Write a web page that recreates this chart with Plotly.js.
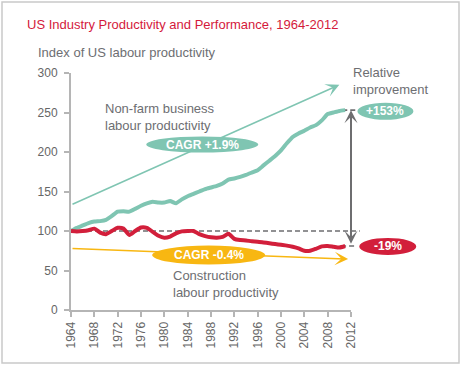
<!DOCTYPE html>
<html>
<head>
<meta charset="utf-8">
<script src="https://cdn.plot.ly/plotly-3.0.1.min.js"></script>
<style>
  html, body { margin: 0; padding: 0; background: #fff; }
  #chart { width: 463px; height: 367px; }
</style>
</head>
<body>
<div id="chart"></div>
<script>
// ---------- DATA ----------
const years = [1964,1965,1966,1967,1968,1969,1970,1971,1972,1973,1974,1975,1976,1977,1978,1979,
               1980,1981,1982,1983,1984,1985,1986,1987,1988,1989,1990,1991,1992,1993,1994,1995,
               1996,1997,1998,1999,2000,2001,2002,2003,2004,2005,2006,2007,2008,2009,2010,2011];
const nonFarm = [100,104,107,110,112,112.5,114,119,124.5,125,124.5,128,132,135,137,136,
                 136,138,135,140,144,147,150,153,155,157,160,165,166.5,168.5,171,174,
                 177,183,189,195,202,211,219,223.5,227,231,234,240,248,250,252,253];
const construction = [100,99.5,100,101,103,98,96,100,104,103,95,100,104.5,104,99,94,
                      91.5,93,97,99.5,100,100,96,93.5,92,91.5,92.5,96.5,90,88.5,88,87,
                      86.5,85.5,84.5,83.5,82.5,81.5,80,78,75,75,77.5,80.5,81,80,79,81];
// trend arrows: [start year, end year], [start value, end value]
const nonFarmTrendX = [1964, 2010];
const nonFarmTrendY = [133, 285];
const constrTrendX = [1964, 2011.5];
const constrTrendY = [78, 64.5];
const nonFarmFinal = 253;
const constrFinal = 81;
const baseIndex = 100;
const labelNonFarmCagr = 'CAGR +1.9%';
const labelConstrCagr = 'CAGR -0.4%';
const labelRelUp = '+153%';
const labelRelDown = '-19%';
const xTicks = [1964,1968,1972,1976,1980,1984,1988,1992,1996,2000,2004,2008,2012];
const yTicks = [0,50,100,150,200,250,300];
const xRange = [1964, 2012];
const yRange = [0, 300];

// ---------- STYLE ----------
const TEAL = '#7fc5b2';
const RED = '#d21f3b';
const YELLOW = '#f8b712';
const GREY = '#6e6e70';
const AXIS = '#b5b5b5';
const TXT = '#6d6e72';
const FONT = 'Liberation Sans, Arial, sans-serif';

const PX = x => (x - xRange[0]) / (xRange[1] - xRange[0]);
const PY = y => (y - yRange[0]) / (yRange[1] - yRange[0]);

const traces = [
  { x: years, y: nonFarm, type: 'scatter', mode: 'lines',
    line: { color: TEAL, width: 4, shape: 'spline', smoothing: 0.4 }, hoverinfo: 'skip' },
  { x: years, y: construction, type: 'scatter', mode: 'lines',
    line: { color: RED, width: 4, shape: 'spline', smoothing: 0.6 }, hoverinfo: 'skip' }
];

const lastYear = years[years.length - 1];

function ellipse(cx, cy, w, h, color) {
  return { type: 'circle', xref: 'paper', yref: 'paper', xsizemode: 'pixel', ysizemode: 'pixel',
           xanchor: PX(cx), yanchor: PY(cy), x0: -w/2, x1: w/2, y0: -h/2, y1: h/2,
           fillcolor: color, line: { width: 0 }, layer: 'above' };
}
function dashed(xa, xb, y) {
  return { type: 'line', xref: 'paper', yref: 'paper', x0: PX(xa), x1: PX(xb), y0: PY(y), y1: PY(y),
           line: { color: GREY, width: 1.6, dash: '5px,3px' }, layer: 'below' };
}

const shapes = [
  // frame
  { type: 'rect', xref: 'paper', yref: 'paper', x0: -0.2464, x1: 1.3857, y0: -0.2236, y1: 1.2996,
    line: { color: '#c9c9c9', width: 1.5 }, fillcolor: 'rgba(0,0,0,0)', layer: 'below' },
  dashed(xRange[0], 2013.5, baseIndex),
  dashed(lastYear - 0.5, 2013, nonFarmFinal),
  dashed(lastYear - 0.7, 2013, constrFinal),
  ellipse(1986.5, 209.5, 112, 16, TEAL),
  ellipse(1987.6, 69.5, 113, 19, YELLOW),
  ellipse(2017.9, nonFarmFinal - 1.5, 56, 17, TEAL),
  ellipse(2018.3, constrFinal - 0.5, 57, 17, RED)
];

const annotations = [
  // trend arrows
  { x: nonFarmTrendX[1], y: nonFarmTrendY[1], ax: nonFarmTrendX[0], ay: nonFarmTrendY[0],
    xref: 'x', yref: 'y', axref: 'x', ayref: 'y', text: '', showarrow: true,
    arrowhead: 3, arrowsize: 1.5, arrowwidth: 1.5, arrowcolor: TEAL, standoff: 0 },
  { x: constrTrendX[1], y: constrTrendY[1], ax: constrTrendX[0], ay: constrTrendY[0],
    xref: 'x', yref: 'y', axref: 'x', ayref: 'y', text: '', showarrow: true,
    arrowhead: 3, arrowsize: 1.5, arrowwidth: 1.5, arrowcolor: YELLOW, standoff: 0 },
  // relative improvement double arrow
  { x: xRange[1], y: nonFarmFinal, ax: xRange[1], ay: constrFinal + 1,
    xref: 'x', yref: 'y', axref: 'x', ayref: 'y', text: '', showarrow: true,
    arrowhead: 3, startarrowhead: 3, arrowside: 'end+start', arrowsize: 1.1, startarrowsize: 1.1,
    arrowwidth: 2, arrowcolor: GREY, standoff: 0, startstandoff: 0 },
  // y axis caption
  { xref: 'paper', yref: 'paper', x: -0.125, y: 1.0886, xanchor: 'left', yanchor: 'middle',
    text: 'Index of US labour productivity', showarrow: false, font: { family: FONT, size: 13, color: TXT } },
  // labels
  { xref: 'x', yref: 'y', x: 1969.5, y: 244, xanchor: 'left', yanchor: 'middle', align: 'left',
    text: 'Non-farm business<br>labour productivity', showarrow: false,
    font: { family: FONT, size: 13, color: TXT } },
  { xref: 'x', yref: 'y', x: 1981.1, y: 33.5, xanchor: 'left', yanchor: 'middle', align: 'left',
    text: 'Construction<br>labour productivity', showarrow: false,
    font: { family: FONT, size: 13, color: TXT } },
  { xref: 'x', yref: 'y', x: 2012, y: 290.5, xanchor: 'left', yanchor: 'middle', align: 'left',
    text: 'Relative<br>improvement', showarrow: false,
    font: { family: FONT, size: 13, color: TXT } },
  { xref: 'x', yref: 'y', x: 1986.5, y: 209.5, xanchor: 'center', yanchor: 'middle',
    text: '<b>' + labelNonFarmCagr + '</b>', showarrow: false, font: { family: FONT, size: 12, color: '#fff' } },
  { xref: 'x', yref: 'y', x: 1987.6, y: 69.5, xanchor: 'center', yanchor: 'middle',
    text: '<b>' + labelConstrCagr + '</b>', showarrow: false, font: { family: FONT, size: 12, color: '#fff' } },
  { xref: 'paper', yref: 'paper', x: PX(2017.9), y: PY(nonFarmFinal - 1.5), xanchor: 'center', yanchor: 'middle',
    text: '<b>' + labelRelUp + '</b>', showarrow: false, font: { family: FONT, size: 12, color: '#fff' } },
  { xref: 'paper', yref: 'paper', x: PX(2018.3), y: PY(constrFinal - 0.5), xanchor: 'center', yanchor: 'middle',
    text: '<b>' + labelRelDown + '</b>', showarrow: false, font: { family: FONT, size: 12, color: '#fff' } }
];

const layout = {
  width: 463, height: 367,
  margin: { l: 71, r: 112, t: 73, b: 57, pad: 0 },
  paper_bgcolor: '#ffffff', plot_bgcolor: 'rgba(0,0,0,0)',
  showlegend: false,
  title: { text: 'US Industry Productivity and Performance, 1964-2012',
           xref: 'container', yref: 'container', x: 27/463, xanchor: 'left',
           y: 1 - 24/367, yanchor: 'middle',
           font: { family: FONT, size: 13, color: '#d4193b' } },
  xaxis: { range: xRange, tickvals: xTicks, ticktext: xTicks.map(String), tickangle: -90,
           showgrid: false, zeroline: false, showline: true, linecolor: AXIS, linewidth: 2,
           ticks: 'outside', ticklen: 5, tickwidth: 2, tickcolor: AXIS,
           tickfont: { family: FONT, size: 12, color: '#666' }, fixedrange: true },
  yaxis: { range: yRange, tickvals: yTicks, showgrid: false, zeroline: false, showline: true,
           linecolor: AXIS, linewidth: 2, ticks: 'outside', ticklen: 5, tickwidth: 2, tickcolor: AXIS,
           tickfont: { family: FONT, size: 12, color: '#666' }, ticklabelstandoff: 4, fixedrange: true },
  shapes: shapes,
  annotations: annotations
};

Plotly.newPlot('chart', traces, layout, { displayModeBar: false, staticPlot: true });
</script>
</body>
</html>
